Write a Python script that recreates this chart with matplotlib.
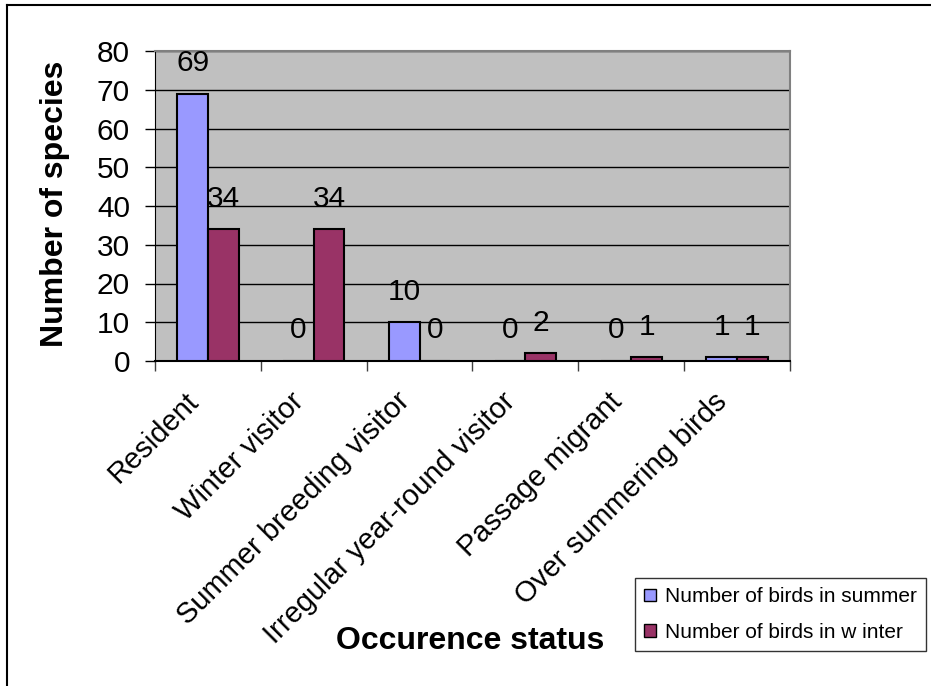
import numpy as np
import matplotlib
matplotlib.use('Agg')
import matplotlib.pyplot as plt
import matplotlib.transforms as mtransforms
from matplotlib.lines import Line2D
from matplotlib.patches import Patch

plt.rcParams['font.family'] = ['Liberation Sans', 'DejaVu Sans']

# occurrence status categories and species counts
categories = ['Resident', 'Winter visitor', 'Summer breeding visitor',
              'Irregular year-round visitor', 'Passage migrant', 'Over summering birds']
summer = [69, 0, 10, 0, 0, 1]
winter = [34, 34, 0, 2, 1, 1]
series_names = ['Number of birds in summer', 'Number of birds in w inter']

summer_color = '#9999FF'
winter_color = '#993366'

fig = plt.figure(figsize=(9.31, 6.86), dpi=100)
ax = fig.add_axes([155/931, 1-361/686, (790-155)/931, (361-51)/686])
ax.set_facecolor('#C0C0C0')

x = np.arange(len(categories))
w = 0.29
b1 = ax.bar(x - w/2, summer, w, color=summer_color, edgecolor='black', linewidth=1.5, zorder=3)
b2 = ax.bar(x + w/2, winter, w, color=winter_color, edgecolor='black', linewidth=1.5, zorder=3)

# value labels above each bar
for bars, vals in ((b1, summer), (b2, winter)):
    for r, v in zip(bars, vals):
        ax.annotate(str(v), (r.get_x() + r.get_width()/2, v), xytext=(0, 22),
                    textcoords='offset points', ha='center', va='center',
                    fontsize=21.5, zorder=4)

ax.set_xlim(-0.5, len(categories) - 0.5)
ax.set_ylim(0, 80)
ax.set_yticks(range(0, 81, 10))
ax.yaxis.grid(True, color='black', linewidth=1)
ax.set_axisbelow(True)

ax.set_xticks(x)
ax.set_xticklabels(categories, rotation=45, ha='right', va='center',
                   rotation_mode='anchor', fontsize=21)
ax.set_xticks(np.arange(-0.5, len(categories)), minor=True)
ax.tick_params(axis='x', which='major', length=0, pad=26)
ax.tick_params(axis='x', which='minor', length=7, color='#404040', width=1)
ax.tick_params(axis='y', direction='out', length=7, width=1, pad=11, labelsize=21.5)

# nudge the slanted category labels a little to the left
shift = mtransforms.ScaledTranslation(-0.14, 0, fig.dpi_scale_trans)
for lbl in ax.get_xticklabels():
    lbl.set_transform(lbl.get_transform() + shift)

for s in ('top', 'right'):
    ax.spines[s].set_color('#808080')
    ax.spines[s].set_linewidth(1.5)
ax.spines['left'].set_color('black')
ax.spines['bottom'].set_color('black')
ax.spines['bottom'].set_linewidth(1.5)

fig.text(55/931, 1-204/686, 'Number of species', rotation=90, fontsize=23,
         fontweight='bold', ha='center', va='center')
fig.text(470/931, 1-641/686, 'Occurence status', fontsize=23,
         fontweight='bold', ha='center', va='center')

handles = [Patch(facecolor=summer_color, edgecolor='black'),
           Patch(facecolor=winter_color, edgecolor='black')]
leg = fig.legend(handles, series_names, loc='upper left',
                 bbox_to_anchor=(635/931, 1-578/686), fontsize=15, frameon=True,
                 fancybox=False, handlelength=0.55, handleheight=0.55,
                 handletextpad=0.45, borderpad=0.45, labelspacing=0.8,
                 borderaxespad=0)
leg.get_frame().set_edgecolor('black')
leg.get_frame().set_linewidth(1)

# outer chart frame
fig.add_artist(Line2D([7/931, 1], [1-5/686, 1-5/686], color='black', linewidth=1.5))
fig.add_artist(Line2D([7/931, 7/931], [0, 1-5/686], color='black', linewidth=1.5))

fig.savefig('out.png', dpi=100)
